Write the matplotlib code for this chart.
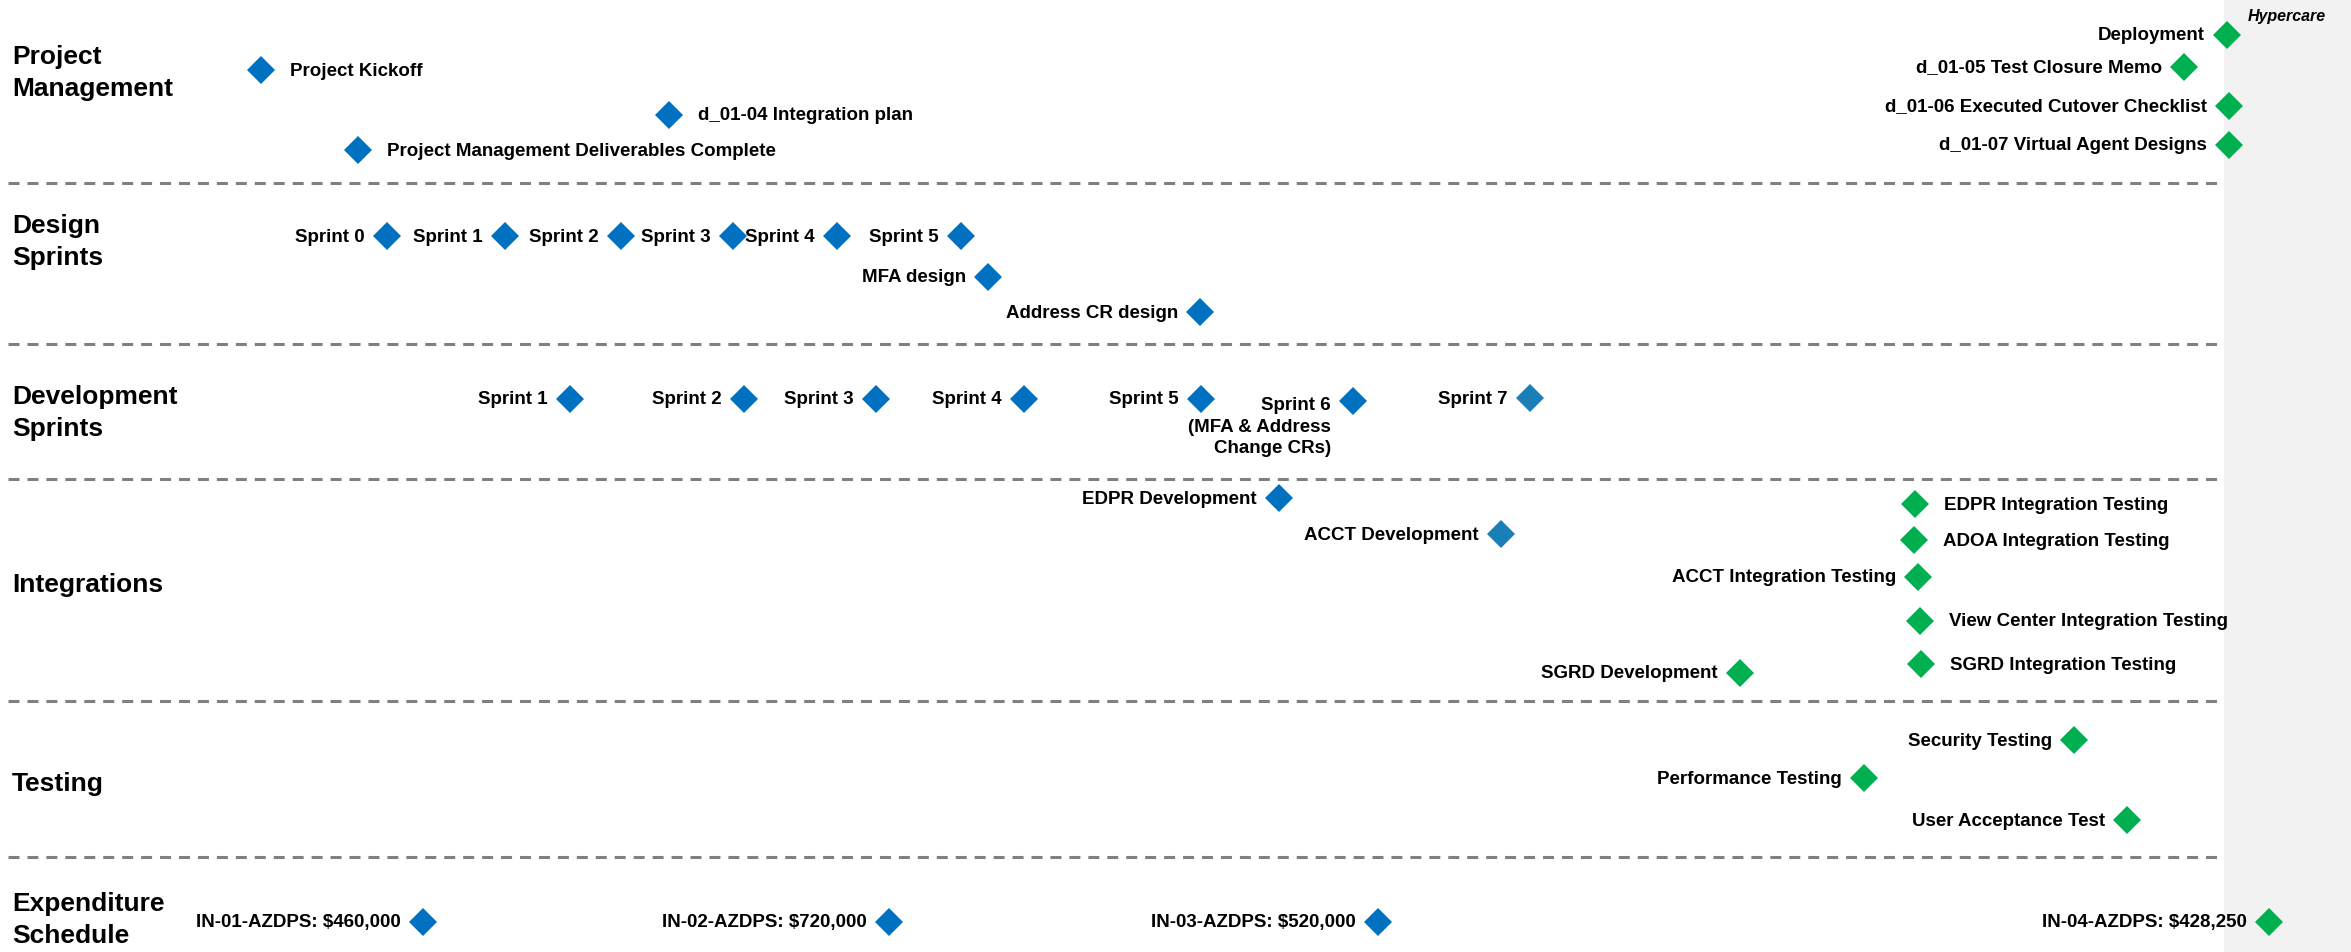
import matplotlib.pyplot as plt

plt.rcParams['font.family'] = ['Liberation Sans', 'DejaVu Sans']

# colours by milestone type
status_colors = {'dev': '#0070C0', 'alt': '#1A7FB6', 'test': '#00B050'}

# swimlanes (timeline units, y grows downward)
lane_titles = ['Project\nManagement', 'Design\nSprints', 'Development\nSprints',
               'Integrations', 'Testing', 'Expenditure\nSchedule']
lane_title_y = [73, 242, 413, 585, 784, 920]
lane_breaks = [183, 343.5, 478.5, 700.5, 856.5]
hypercare_start = 2224

# Project Management
pm_names = ['Project Kickoff', 'd_01-04 Integration plan',
            'Project Management Deliverables Complete', 'Deployment',
            'd_01-05 Test Closure Memo', 'd_01-06 Executed Cutover Checklist',
            'd_01-07 Virtual Agent Designs']
pm_x = [261, 669, 358, 2227, 2184, 2229, 2229]
pm_y = [70, 115, 150, 35, 67, 106, 145]
pm_status = ['dev', 'dev', 'dev', 'test', 'test', 'test', 'test']
pm_side = ['R', 'R', 'R', 'L', 'L', 'L', 'L']

# Design Sprints
ds_names = ['Sprint 0', 'Sprint 1', 'Sprint 2', 'Sprint 3', 'Sprint 4', 'Sprint 5',
            'MFA design', 'Address CR design']
ds_x = [387, 505, 621, 733, 837, 961, 988, 1200]
ds_y = [236, 236, 236, 236, 236, 236, 277, 312]
ds_status = ['dev'] * 8
ds_side = ['L'] * 8

# Development Sprints
dv_names = ['Sprint 1', 'Sprint 2', 'Sprint 3', 'Sprint 4', 'Sprint 5',
            'Sprint 6\n(MFA & Address\nChange CRs)', 'Sprint 7']
dv_x = [570, 744, 876, 1024, 1201, 1353, 1530]
dv_y = [399, 399, 399, 399, 399, 401, 398]
dv_status = ['dev'] * 6 + ['alt']
dv_side = ['L'] * 7

# Integrations
in_names = ['EDPR Development', 'ACCT Development', 'SGRD Development',
            'EDPR Integration Testing', 'ADOA Integration Testing',
            'ACCT Integration Testing', 'View Center Integration Testing',
            'SGRD Integration Testing']
in_x = [1279, 1501, 1740, 1915, 1914, 1918, 1920, 1921]
in_y = [498, 534, 673, 504, 540, 577, 621, 664]
in_status = ['dev', 'alt', 'test', 'test', 'test', 'test', 'test', 'test']
in_side = ['L', 'L', 'L', 'R', 'R', 'L', 'R', 'R']

# Testing
ts_names = ['Security Testing', 'Performance Testing', 'User Acceptance Test']
ts_x = [2074, 1864, 2127]
ts_y = [740, 778, 820]
ts_status = ['test'] * 3
ts_side = ['L'] * 3

# Expenditure Schedule
ex_names = ['IN-01-AZDPS: $460,000', 'IN-02-AZDPS: $720,000',
            'IN-03-AZDPS: $520,000', 'IN-04-AZDPS: $428,250']
ex_x = [423, 889, 1378, 2269]
ex_y = [922, 922, 922, 922]
ex_status = ['dev', 'dev', 'dev', 'test']
ex_side = ['L'] * 4

fig = plt.figure(figsize=(23.51, 9.52), dpi=100)
ax = fig.add_axes([0, 0, 1, 1])
ax.set_xlim(0, 2351)
ax.set_ylim(952, 0)
ax.axis('off')

ax.axvspan(hypercare_start, 2351, color='#F2F2F2', zorder=0, lw=0)
ax.text(2287, 17, 'Hypercare', fontsize=11.5, fontweight='bold', style='italic',
        ha='center', va='center')

ax.hlines(lane_breaks, 8, 2217, colors='#808080', lw=2.2,
          linestyles=(0, (3.6, 2.6)), zorder=1)

for t, y in zip(lane_titles, lane_title_y):
    ax.text(12, y, t, fontsize=19, fontweight='bold', ha='left', va='center',
            linespacing=1.4)

lanes = [
    (pm_names, pm_x, pm_y, pm_status, pm_side),
    (ds_names, ds_x, ds_y, ds_status, ds_side),
    (dv_names, dv_x, dv_y, dv_status, dv_side),
    (in_names, in_x, in_y, in_status, in_side),
    (ts_names, ts_x, ts_y, ts_status, ts_side),
    (ex_names, ex_x, ex_y, ex_status, ex_side),
]

for names, xs, ys, sts, sides in lanes:
    for name, x, y, st, side in zip(names, xs, ys, sts, sides):
        ax.plot(x, y, marker='D', ms=14.5, mew=0, color=status_colors[st],
                linestyle='none', zorder=3)
        if side == 'L':
            tx, ha = x - 22, 'right'
        else:
            tx, ha = x + 29, 'left'
        if '\n' in name:
            ax.text(tx, y - 4, name, fontsize=13.5, fontweight='bold', ha=ha,
                    va='top', multialignment='right', linespacing=1.35)
        else:
            ax.text(tx, y + 1, name, fontsize=13.5, fontweight='bold', ha=ha,
                    va='center')

fig.savefig('out.png', dpi=100)
